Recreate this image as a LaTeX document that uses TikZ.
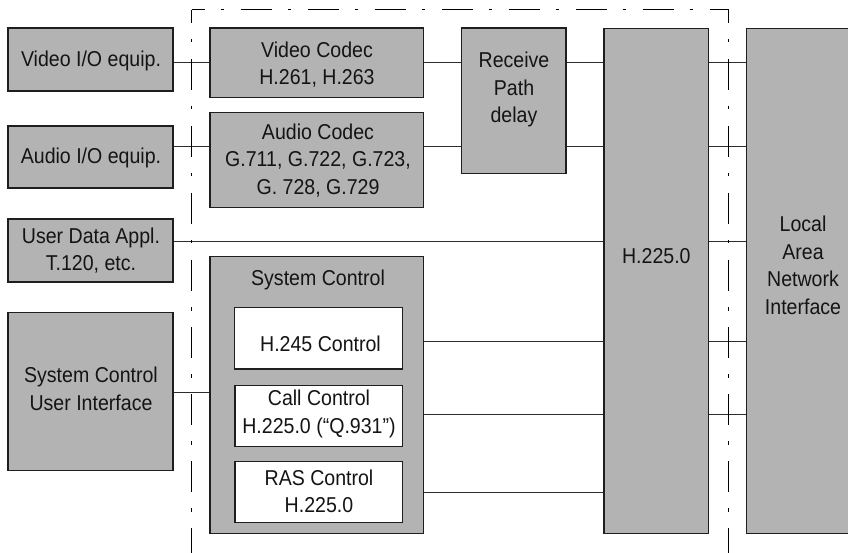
\documentclass[tikz,border=0pt]{standalone}
\usepackage{fontspec}
\setmainfont{Liberation Sans}[FakeStretch=0.91]
\definecolor{boxgray}{RGB}{179,179,179}
\definecolor{edge}{RGB}{30,30,30}
\definecolor{wirec}{RGB}{45,45,45}
\begin{document}
\begin{tikzpicture}[x=1pt,y=-1pt,
  box/.style={draw=edge, line width=1.1pt, fill=boxgray, inner sep=0pt},
  wbox/.style={box, fill=white},
  lbl/.style={font=\fontsize{21.5}{27.5}\selectfont, align=center, anchor=base, inner sep=0pt, text=black!92},
  wire/.style={draw=wirec, line width=1pt},
  frame/.style={draw=black, line width=1pt, dash pattern=on 31pt off 16pt on 3.5pt off 16.5pt, dash phase=18pt}]
\useasboundingbox (0,0) rectangle (848,553);
\clip (0,0) rectangle (848,553);

% terminal equipment
\node[box, minimum width=165pt, minimum height=63pt]  (vidio) at (90.5,59.5) {};
\node[box, minimum width=165pt, minimum height=62pt]  (audio) at (90.5,157) {};
\node[box, minimum width=165pt, minimum height=63pt]  (udata) at (90.5,250.5) {};
\node[box, minimum width=165pt, minimum height=158.4pt] (sysui) at (90.5,391.5) {};

% codecs, delay, system control
\node[box, minimum width=213.5pt, minimum height=69.3pt] (vcodec) at (316.75,62.65) {};
\node[box, minimum width=213.5pt, minimum height=94.6pt] (acodec) at (316.75,160) {};
\node[box, minimum width=104.3pt, minimum height=145.3pt] (rxpath) at (513.85,100.65) {};
\node[box, minimum width=213.5pt, minimum height=276.6pt] (sysctl) at (316.75,395) {};
\node[wbox, minimum width=168pt, minimum height=61.7pt] (h245) at (318.5,338.15) {};
\node[wbox, minimum width=167.7pt, minimum height=60.6pt] (callc) at (318.85,416) {};
\node[wbox, minimum width=167.7pt, minimum height=60.6pt] (rasc) at (318.85,492) {};

% multiplex layer and network interface
\node[box, minimum width=104.7pt, minimum height=504.8pt] (h225) at (656.35,280.9) {};
\node[box, minimum width=113.5pt, minimum height=504.8pt] (lan) at (803.25,280.9) {};

% labels (base anchor = baseline of the last line)
\node[lbl] (tvidio) at (91,66.7) {Video I/O equip.};
\node[lbl] (taudio) at (91,164) {Audio I/O equip.};
\node[lbl] (tudata) at (91,270.8) {User Data Appl.\\T.120, etc.};
\node[lbl] (tsysui) at (91,410) {System Control\\User Interface};
\node[lbl] (tvcodec) at (317,85) {Video Codec\\H.261, H.263};
\node[lbl] (tacodec) at (318,194.5) {Audio Codec\\G.711, G.722, G.723,\\G. 728, G.729};
\node[lbl] (trxpath) at (514,122.7) {Receive\\Path\\delay};
\node[lbl] (tsysctl) at (318,285) {System Control};
\node[lbl] (th245) at (320.5,351.7) {H.245 Control};
\node[lbl] (tcallc) at (319,433.3) {Call Control\\H.225.0 (“Q.931”)};
\node[lbl] (trasc) at (319,512.7) {RAS Control\\H.225.0};
\node[lbl] (th225) at (656.35,263) {H.225.0};
\node[lbl] (tlan) at (803,314) {Local\\Area\\Network\\Interface};

% signal rows
\coordinate (r1) at (0,62.3);
\coordinate (r2) at (0,146.5);
\coordinate (r3) at (0,241.7);
\coordinate (r4) at (0,341);
\coordinate (r5) at (0,392.3);
\coordinate (r6) at (0,414.8);
\coordinate (r7) at (0,492);

\draw[wire] (vidio.east |- r1) -- (vcodec.west |- r1);
\draw[wire] (vcodec.east |- r1) -- (rxpath.west |- r1);
\draw[wire] (rxpath.east |- r1) -- (h225.west |- r1);
\draw[wire] (h225.east |- r1) -- (lan.west |- r1);

\draw[wire] (audio.east |- r2) -- (acodec.west |- r2);
\draw[wire] (acodec.east |- r2) -- (rxpath.west |- r2);
\draw[wire] (rxpath.east |- r2) -- (h225.west |- r2);
\draw[wire] (h225.east |- r2) -- (lan.west |- r2);

\draw[wire] (udata.east |- r3) -- (h225.west |- r3);
\draw[wire] (h225.east |- r3) -- (lan.west |- r3);

\draw[wire] (sysctl.east |- r4) -- (h225.west |- r4);
\draw[wire] (h225.east |- r4) -- (lan.west |- r4);

\draw[wire] (sysui.east |- r5) -- (sysctl.west |- r5);

\draw[wire] (sysctl.east |- r6) -- (h225.west |- r6);
\draw[wire] (h225.east |- r6) -- (lan.west |- r6);

\draw[wire] (sysctl.east |- r7) -- (h225.west |- r7);

% terminal boundary (dash-dot)
\coordinate (ftl) at (191.7,10);
\coordinate (ftr) at (728.7,10);
\coordinate (fbl) at (191.7,560);
\coordinate (fbr) at (728.7,560);
\draw[frame] (ftl) -- (ftr);
\draw[frame] (ftl) -- (fbl);
\draw[frame] (ftr) -- (fbr);
\end{tikzpicture}
\end{document}
